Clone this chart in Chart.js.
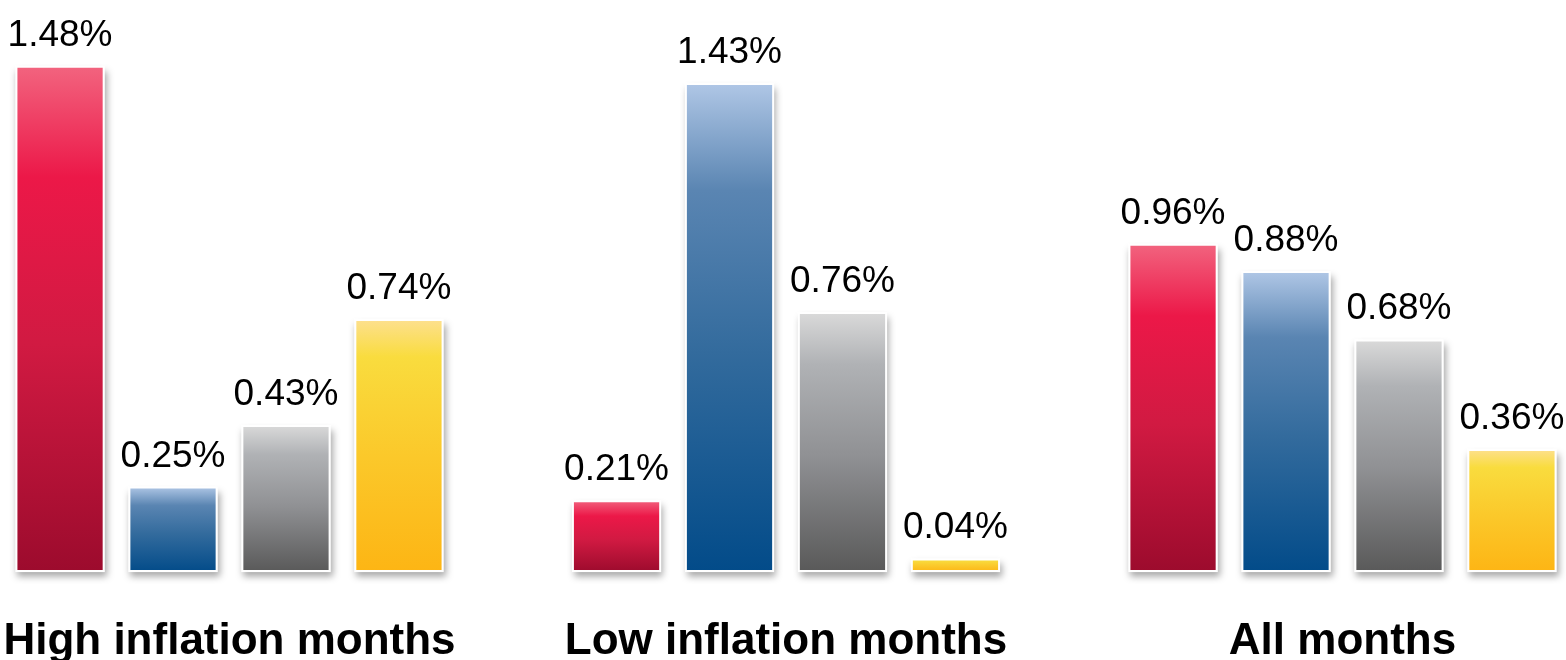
<!DOCTYPE html>
<html>
<head>
<meta charset="utf-8">
<script src="https://cdn.jsdelivr.net/npm/chart.js@4/dist/chart.umd.min.js"></script>
<style>
  html, body { margin: 0; padding: 0; background: #fff; }
  #wrap { width: 1566px; height: 660px; }
</style>
</head>
<body>
<div id="wrap"><canvas id="barChart"></canvas></div>
<script>
const categories = ["High inflation months", "Low inflation months", "All months"];
const seriesRed = [1.48, 0.21, 0.96];
const seriesBlue = [0.25, 1.43, 0.88];
const seriesGray = [0.43, 0.76, 0.68];
const seriesYellow = [0.74, 0.04, 0.36];

// gradient stops, top -> bottom
const redStops = [[0, "#f2647f"], [0.22, "#ec1848"], [0.55, "#d11a42"], [1, "#9c0b2d"]];
const blueStops = [[0, "#b0c7e6"], [0.22, "#5a85b2"], [0.55, "#336b9d"], [1, "#024b89"]];
const grayStops = [[0, "#dadada"], [0.2, "#b0b2b5"], [0.55, "#909194"], [1, "#595959"]];
const yellowStops = [[0, "#fde090"], [0.15, "#f9dc3e"], [0.55, "#fbc82a"], [1, "#fdb514"]];

function gradientFill(stops) {
  return (c) => {
    if (c.type !== "data") return stops[1][1];
    const chart = c.chart;
    if (!chart.chartArea) return stops[1][1];
    const y = chart.scales.y;
    const top = y.getPixelForValue(c.raw);
    const base = y.getPixelForValue(0);
    const g = chart.ctx.createLinearGradient(0, top, 0, base);
    stops.forEach((s) => g.addColorStop(s[0], s[1]));
    return g;
  };
}

function makeSet(label, data, stops) {
  return {
    label,
    data,
    backgroundColor: gradientFill(stops),
    borderColor: "#ffffff",
    borderWidth: 2,
    borderSkipped: false,
    clip: false,
  };
}

// --- ombre douce sous chaque barre ---
const shadowPlugin = {
  id: "barShadow",
  beforeDatasetsDraw(chart) {
    const ctx = chart.ctx;
    ctx.save();
    ctx.shadowColor = "rgba(0,0,0,0.35)";
    ctx.shadowBlur = 7;
    ctx.shadowOffsetX = 2;
    ctx.shadowOffsetY = 5;
    ctx.fillStyle = "#ffffff";
    chart.data.datasets.forEach((ds, i) => {
      chart.getDatasetMeta(i).data.forEach((bar) => {
        const p = bar.getProps(["x", "y", "base", "width"], true);
        ctx.fillRect(p.x - p.width / 2, p.y, p.width, p.base - p.y);
      });
    });
    ctx.restore();
  },
};

// --- étiquettes de valeur ---
const valueLabels = {
  id: "valueLabels",
  afterDatasetsDraw(chart) {
    const ctx = chart.ctx;
    ctx.save();
    ctx.font = "37px 'Liberation Sans', Arial, sans-serif";
    ctx.fillStyle = "#000000";
    ctx.textAlign = "center";
    ctx.textBaseline = "alphabetic";
    chart.data.datasets.forEach((ds, i) => {
      chart.getDatasetMeta(i).data.forEach((bar, j) => {
        const p = bar.getProps(["x", "y"], true);
        ctx.fillText(ds.data[j].toFixed(2) + "%", p.x, p.y - 20);
      });
    });
    ctx.restore();
  },
};

new Chart(document.getElementById("barChart"), {
  type: "bar",
  data: {
    labels: categories,
    datasets: [
      makeSet("Red", seriesRed, redStops),
      makeSet("Blue", seriesBlue, blueStops),
      makeSet("Gray", seriesGray, grayStops),
      makeSet("Yellow", seriesYellow, yellowStops),
    ],
  },
  options: {
    responsive: true,
    maintainAspectRatio: false,
    animation: false,
    layout: { padding: { left: 229.5, right: 223.5, top: 0, bottom: -51.6 } },
    datasets: { bar: { categoryPercentage: 0.812, barPercentage: 0.79 } },
    plugins: { legend: { display: false }, tooltip: { enabled: false } },
    scales: {
      x: {
        offset: false,
        grid: { display: false, drawTicks: false },
        border: { display: false },
        ticks: {
          autoSkip: false,
          maxRotation: 0,
          padding: 2,
          color: "#000000",
          font: { family: "'Liberation Sans', Arial, sans-serif", size: 44, weight: "bold", lineHeight: 3.08 },
        },
      },
      y: {
        display: false,
        min: 0,
        max: 1.6725,
      },
    },
  },
  plugins: [shadowPlugin, valueLabels],
});
</script>
</body>
</html>
